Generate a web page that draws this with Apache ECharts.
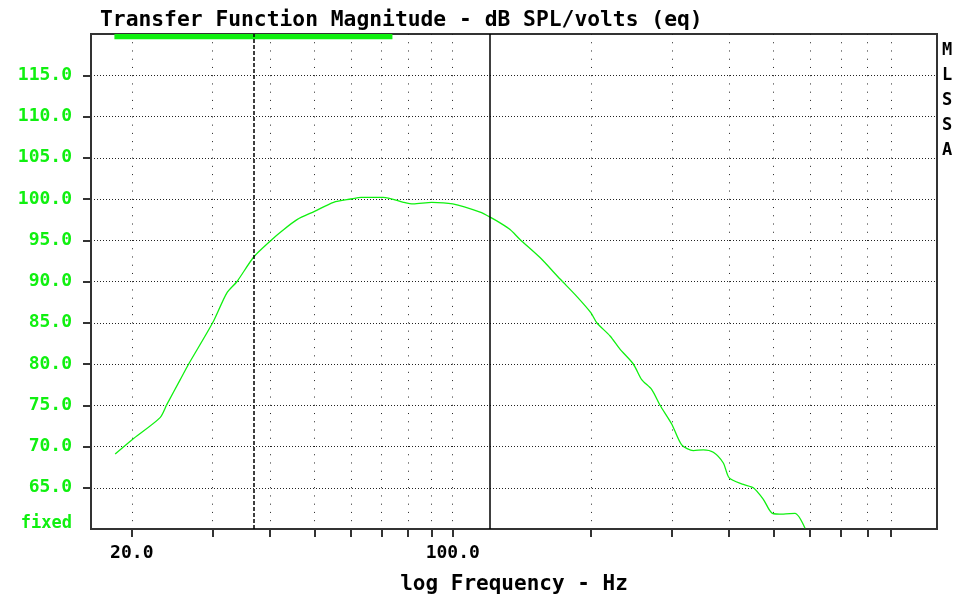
<!DOCTYPE html>
<html>
<head>
<meta charset="utf-8">
<script src="https://cdn.jsdelivr.net/npm/echarts@6/dist/echarts.min.js"></script>
<style>
html,body{margin:0;padding:0;background:#fff;}
#chart{width:962px;height:600px;}
</style>
</head>
<body>
<div id="chart"></div>
<script>
// ---- data ----
const freqHz = [18.4, 20, 23.05, 23.85, 25.5, 26.6, 30, 32.2, 33.9, 36.9, 40.4, 42.4, 45.8, 50, 55, 60, 63.2, 70.6, 78.1, 82, 90, 100, 114.7, 120.6, 126.8, 133.3, 140.1, 154.9, 171.3, 186.2, 200, 205.9, 220.1, 231.3, 247.3, 257.9, 271.3, 282.8, 300, 315.2, 334.2, 351.3, 369.4, 388.4, 400, 429.4, 451.4, 474.7, 496.6, 524.8, 556.4, 585.1];
const splDb = [69.1, 70.8, 73.5, 75.1, 78.1, 80, 85, 88.6, 90, 93.0, 95.1, 96.1, 97.5, 98.5, 99.6, 100, 100.2, 100.2, 99.6, 99.4, 99.6, 99.4, 98.4, 97.8, 97.1, 96.3, 95.1, 92.9, 90.3, 88.2, 86.2, 85, 83.4, 81.8, 80, 78.1, 76.9, 75, 72.7, 70.2, 69.5, 69.6, 69.3, 68.0, 66.2, 65.4, 65, 63.6, 61.9, 61.8, 61.9, 60.1];
const gridFreqs = [20, 30, 40, 50, 60, 70, 80, 90, 100, 200, 300, 400, 500, 600, 700, 800, 900];
const labelFreqs = [20, 100];
const yTicks = [65, 70, 75, 80, 85, 90, 95, 100, 105, 110, 115];
const cursorDashed = [36.9];
const cursorSolid = [120.6];
const rangeFreqs = [18.33, 73.9];
const rangeDb = [119.36, 120];
const xRange = [16.3, 1134];
const yRange = [60, 120];
const titleText = 'Transfer Function Magnitude - dB SPL/volts (eq)';
const xTitle = 'log Frequency - Hz';
const sideText = ['M', 'L', 'S', 'S', 'A'];

const green = '#10f010';
const mono = '"DejaVu Sans Mono", "Liberation Mono", monospace';

const chart = echarts.init(document.getElementById('chart'), null, {renderer: 'canvas'});
chart.setOption({
  animation: false,
  backgroundColor: '#ffffff',
  title: {
    text: titleText,
    left: 100, top: 10, padding: 0,
    textStyle: {fontFamily: mono, fontWeight: 'bold', fontSize: 21.3, color: '#000'}
  },
  graphic: [{
    type: 'text', left: 942, top: 38,
    style: {text: sideText.join('\n'), fontFamily: mono, fontWeight: 'bold', fontSize: 17, lineHeight: 25, fill: '#000'}
  }],
  grid: {left: 91, right: 25, top: 34, bottom: 71, show: true, borderColor: '#333', borderWidth: 2, backgroundColor: '#fff'},
  xAxis: {
    type: 'log', logBase: 10, min: xRange[0], max: xRange[1],
    name: xTitle, nameLocation: 'middle', nameGap: 45,
    nameTextStyle: {fontFamily: mono, fontWeight: 'bold', fontSize: 21, color: '#000'},
    axisLine: {show: true, lineStyle: {color: '#333', width: 2}},
    axisTick: {show: true, inside: false, length: 8, customValues: gridFreqs, lineStyle: {color: '#333', width: 2}},
    axisLabel: {show: true, customValues: labelFreqs, margin: 15, formatter: v => Number(v).toFixed(1),
      fontFamily: mono, fontWeight: 'bold', fontSize: 18, color: '#000'},
    splitLine: {show: true, lineStyle: {color: '#222', width: 1, type: [1, 7.24]}},
    minorTick: {show: false}, minorSplitLine: {show: false}
  },
  yAxis: {
    type: 'value', min: yRange[0], max: yRange[1], interval: 5,
    axisLine: {show: true, lineStyle: {color: '#333', width: 2}},
    axisTick: {show: true, inside: false, length: 8, customValues: yTicks, lineStyle: {color: '#333', width: 2}},
    axisLabel: {margin: 19,
      formatter: v => v === 60 ? '{f|fixed}' : (v === 120 ? '' : v.toFixed(1)),
      rich: {f: {fontFamily: mono, fontWeight: 'bold', fontSize: 17, color: green, padding: [0, 0, 10, 0]}},
      fontFamily: mono, fontWeight: 'bold', fontSize: 18, color: green},
    splitLine: {show: true, lineStyle: {color: '#222', width: 1, type: [1, 2]}}
  },
  series: [{
    type: 'line',
    data: freqHz.map((f, i) => [f, splDb[i]]),
    showSymbol: false, symbol: 'none', clip: true, smooth: 0.25,
    lineStyle: {color: green, width: 1.3},
    markLine: {
      silent: true, symbol: 'none', label: {show: false},
      data: [
        ...cursorDashed.map(f => ({xAxis: f, lineStyle: {color: '#000', width: 1.5, type: [4, 2]}})),
        ...cursorSolid.map(f => ({xAxis: f, lineStyle: {color: '#000', width: 1.5, type: 'solid'}}))
      ]
    },
    markArea: {
      silent: true,
      itemStyle: {color: green},
      data: [[{xAxis: rangeFreqs[0], yAxis: rangeDb[0]}, {xAxis: rangeFreqs[1], yAxis: rangeDb[1]}]]
    }
  }]
});
</script>
</body>
</html>
